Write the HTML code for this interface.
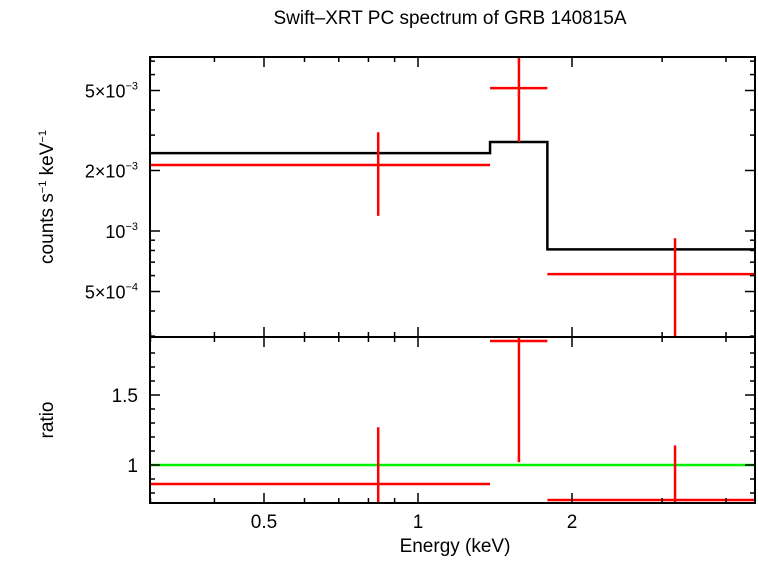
<!DOCTYPE html>
<html><head><meta charset="utf-8"><style>
body{margin:0;background:#fff}
svg text{font-family:"Liberation Sans",sans-serif;fill:#000}
</style></head><body>
<svg id="c" width="758" height="556">
<text x="450" y="24" font-size="19" text-anchor="middle">Swift–XRT PC spectrum of GRB 140815A</text>
<text x="455" y="552" font-size="19" text-anchor="middle">Energy (keV)</text>
<text transform="translate(53,197) rotate(-90)" font-size="19" text-anchor="middle">counts s<tspan font-size="11" dy="-7">−1</tspan><tspan dy="7"> keV</tspan><tspan font-size="11" dy="-7">−1</tspan></text>
<text transform="translate(53,420) rotate(-90)" font-size="19" text-anchor="middle">ratio</text>
<g id="g"></g>
</svg>
<script>
const binLo=[0.3,1.383,1.79];
const binHi=[1.383,1.79,4.6];
const binCenter=[0.836,1.575,3.18];
const rate=[2.13e-3,5.14e-3,6.1e-4];
const rateErrHi=[3.1e-3,7.6e-3,9.2e-4];
const rateErrLo=[1.19e-3,2.77e-3,2.5e-4];
const model=[2.44e-3,2.77e-3,8.1e-4];
const ratio=[0.864,1.886,0.75];
const ratioErrHi=[1.27,2.1,1.14];
const ratioErrLo=[0.73,1.02,0.6];
const xTicks=[0.5,1,2];
const xMinor=[0.3,0.4,0.6,0.7,0.8,0.9,3,4];
const yTopTicks=[5e-3,2e-3,1e-3,5e-4];
const yTopLabels=[["5×10","−3"],["2×10","−3"],["10","−3"],["5×10","−4"]];
const yTopMinor=[3e-4,4e-4,6e-4,7e-4,8e-4,9e-4,3e-3,4e-3,6e-3,7e-3];
const yBotTicks=[1,1.5];
const L=150,R=755,T=57,M=337,B=503;
const X=e=>264+(Math.log10(e)-Math.log10(0.5))*511.6;
const Yt=v=>231-(Math.log10(v)+3)*201;
const Yb=v=>465-(v-1)*140;
const ns="http://www.w3.org/2000/svg";
const g=document.getElementById('g');
function el(t,a,name){const e=document.createElementNS(ns,t);for(const k in a)e.setAttribute(k,a[k]);


g.appendChild(e);return e;}
const cl=(v,a,b)=>Math.max(a,Math.min(b,v));
function line(x1,y1,x2,y2,c,w,n){el('line',{x1,y1,x2,y2,stroke:c,'stroke-width':w},n);}
let d='';
for(let i=0;i<model.length;i++){const y=Yt(model[i]);const x1=cl(X(binLo[i]),L,R),x2=cl(X(binHi[i]),L,R);d+=(i?'L':'M')+x1+','+y+'L'+x2+','+y;}
el('path',{d,fill:'none',stroke:'#000','stroke-width':2.5},'model-step-line');
line(L,Yb(1),R,Yb(1),'#00ee00',2.5,'ratio-unity-line');
for(let i=0;i<rate.length;i++){
 const x1=cl(X(binLo[i]),L,R),x2=cl(X(binHi[i]),L,R),xc=X(binCenter[i]);
 line(x1,Yt(rate[i]),x2,Yt(rate[i]),'#f00',2.5,'data-point-'+i+'-xerr');
 line(xc,cl(Yt(rateErrHi[i]),T,M),xc,cl(Yt(rateErrLo[i]),T,M),'#f00',2.5,'data-point-'+i+'-yerr');
 line(x1,Yb(ratio[i]),x2,Yb(ratio[i]),'#f00',2.5,'ratio-point-'+i+'-xerr');
 line(xc,cl(Yb(ratioErrHi[i]),M,B),xc,cl(Yb(ratioErrLo[i]),M,B),'#f00',2.5,'ratio-point-'+i+'-yerr');
}
el('rect',{x:L,y:T,width:R-L,height:M-T,fill:'none',stroke:'#000','stroke-width':2},'top-panel-frame');
el('rect',{x:L,y:M,width:R-L,height:B-M,fill:'none',stroke:'#000','stroke-width':2},'bottom-panel-frame');
xTicks.forEach(v=>{const x=X(v);
 [[T,10],[M,-10],[M,10],[B,-10]].forEach(([y,l])=>line(x,y,x,y+l,'#000',1.5,'x-tick'));
 const t=el('text',{x,y:528,'font-size':19,'text-anchor':'middle'},'x-tick-label');t.textContent=v;});
xMinor.forEach(v=>{const x=X(v);if(x<L||x>R)return;
 [[T,5],[M,-5],[M,5],[B,-5]].forEach(([y,l])=>line(x,y,x,y+l,'#000',1.5,'x-minor-tick'));});
yTopTicks.forEach((v,i)=>{const y=Yt(v);line(L,y,L+10,y,'#000',1.5,'top-y-tick');line(R,y,R-10,y,'#000',1.5,'top-y-tick');
 const t=el('text',{x:138,y:y+7,'font-size':18,'text-anchor':'end'},'top-y-tick-label');
 t.innerHTML=yTopLabels[i][0]+'<tspan font-size="11" dy="-8">'+yTopLabels[i][1]+'</tspan>';});
yTopMinor.forEach(v=>{const y=Yt(v);if(y<T||y>M)return;line(L,y,L+5,y,'#000',1.5,'top-y-minor-tick');line(R,y,R-5,y,'#000',1.5,'top-y-minor-tick');});
yBotTicks.forEach(v=>{const y=Yb(v);line(L,y,L+10,y,'#000',1.5,'bottom-y-tick');line(R,y,R-10,y,'#000',1.5,'bottom-y-tick');
 const t=el('text',{x:138,y:y+7,'font-size':19,'text-anchor':'end'},'bottom-y-tick-label');t.textContent=v;});
[0.8,0.9,1.1,1.2,1.3,1.4,1.6,1.7,1.8].forEach(v=>{const y=Yb(v);line(L,y,L+5,y,'#000',1.5,'bottom-y-minor-tick');line(R,y,R-5,y,'#000',1.5,'bottom-y-minor-tick');});
</script>
</body></html>
